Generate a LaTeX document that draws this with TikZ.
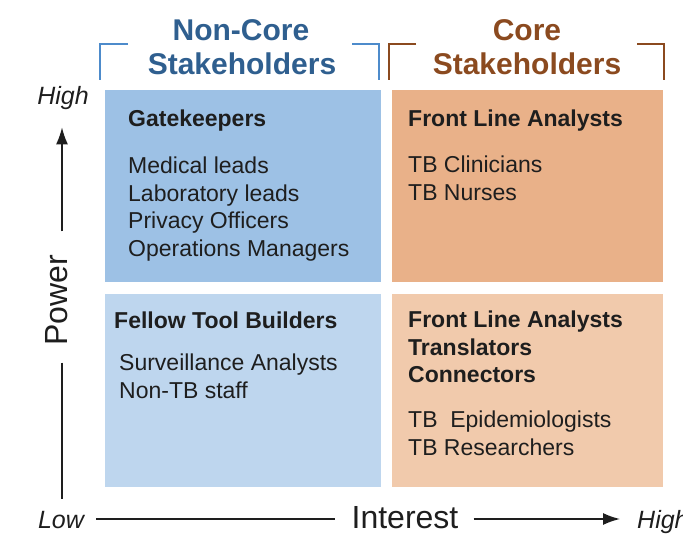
\documentclass[tikz,border=0pt]{standalone}
\usepackage{fontspec}
\setmainfont{Liberation Sans}
\usetikzlibrary{arrows.meta}
\definecolor{hiblue}{HTML}{9DC1E5}
\definecolor{loblue}{HTML}{BED6EE}
\definecolor{hiorange}{HTML}{E9B189}
\definecolor{loorange}{HTML}{F1CAAC}
\definecolor{ncblue}{HTML}{2F5F8F}
\definecolor{ncline}{HTML}{4D8BCB}
\definecolor{corebrown}{HTML}{8B4A1F}
\definecolor{ink}{HTML}{1E1E1E}

\begin{document}
\begin{tikzpicture}[x=1pt,y=-1pt,>={Latex[length=17pt,width=12pt]},
  quad/.style={minimum width=#1, minimum height=192, inner sep=0},
  head/.style={font=\fontsize{30}{34}\selectfont\bfseries, inner sep=0, anchor=base},
  title/.style={font=\fontsize{23}{27.5}\selectfont\bfseries, text=ink, inner sep=0, anchor=base west},
  item/.style={font=\fontsize{23}{27.5}\selectfont, text=ink, inner sep=0, anchor=base west},
  level/.style={font=\fontsize{25}{28}\selectfont\itshape, text=ink, inner sep=0, anchor=base},
  axis/.style={font=\fontsize{32}{36}\selectfont, text=ink, inner sep=0}]
  \useasboundingbox (0,0) rectangle (683,534);
  % Vier Felder
  \node[quad=276, fill=hiblue] (gate) at (243,186.5) {};
  \node[quad=276, fill=loblue] (fellow) at (243,390.5) {};
  \node[quad=271, fill=hiorange] (front) at (527.5,186.5) {};
  \node[quad=271, fill=loorange] (bridge) at (527.5,390.5) {};
  % Klammern oben
  \draw[ncline, line width=2.5pt] (128,44) -- (100,44) -- (100,80);
  \draw[ncline, line width=2.5pt] (352,44) -- (379,44) -- (379,80);
  \draw[corebrown, line width=2.5pt] (416,44) -- (389,44) -- (389,80);
  \draw[corebrown, line width=2.5pt] (637,44) -- (664,44) -- (664,80);
  \node[head, text=ncblue] (noncore) at (241,41) {Non-Core};
  \node[head, text=ncblue] (noncorestake) at (242,75) {Stakeholders};
  \node[head, text=corebrown] (core) at (527,41) {Core};
  \node[head, text=corebrown] (corestake) at (527,75) {Stakeholders};
  % Texte in den Feldern
  \node[title] (gatetitle) at (128,127) {Gatekeepers};
  \foreach \t [count=\i] in {Medical leads, Laboratory leads, Privacy Officers, Operations Managers}
    \node[item] (gate\i) at (128,{174+27.5*(\i-1)}) {\t};
  \node[title] (fronttitle) at (408,127) {Front Line Analysts};
  \foreach \t [count=\i] in {TB Clinicians, TB Nurses}
    \node[item] (front\i) at (408,{173+27.5*(\i-1)}) {\t};
  \node[title] (fellowtitle) at (114,329) {Fellow Tool Builders};
  \foreach \t [count=\i] in {Surveillance Analysts, Non-TB staff}
    \node[item] (fellow\i) at (119,{371+27.5*(\i-1)}) {\t};
  \foreach \t [count=\i] in {Front Line Analysts, Translators, Connectors}
    \node[title] (bridgetitle\i) at (408,{328+27.5*(\i-1)}) {\t};
  \foreach \t [count=\i] in {TB\ \ Epidemiologists, TB Researchers}
    \node[item] (bridge\i) at (408,{428+27.5*(\i-1)}) {\t};
  % Achsen
  \node[level] (powhigh) at (63,105) {High};
  \node[axis, rotate=90] (power) at (57,300) {Power};
  \node[level] (powlow) at (61,528) {Low};
  \node[axis, anchor=base] (interest) at (405,528) {Interest};
  \node[level, anchor=base west] (inthigh) at (637,528) {High};
  \draw[->, line width=1.5pt, ink, shorten <=23pt, shorten >=17pt] (power.east -| 62,0) -- (powhigh.south -| 62,0);
  \draw[line width=1.5pt, ink, shorten <=17pt, shorten >=12pt] (power.west -| 62,0) -- (powlow.north -| 62,0);
  \draw[line width=1.5pt, ink, shorten <=12pt, shorten >=16pt] (powlow.east |- 0,519) -- (interest.west |- 0,519);
  \draw[->, line width=1.5pt, ink, shorten <=15pt, shorten >=17pt] (interest.east |- 0,519) -- (inthigh.west |- 0,519);
\end{tikzpicture}
\end{document}
